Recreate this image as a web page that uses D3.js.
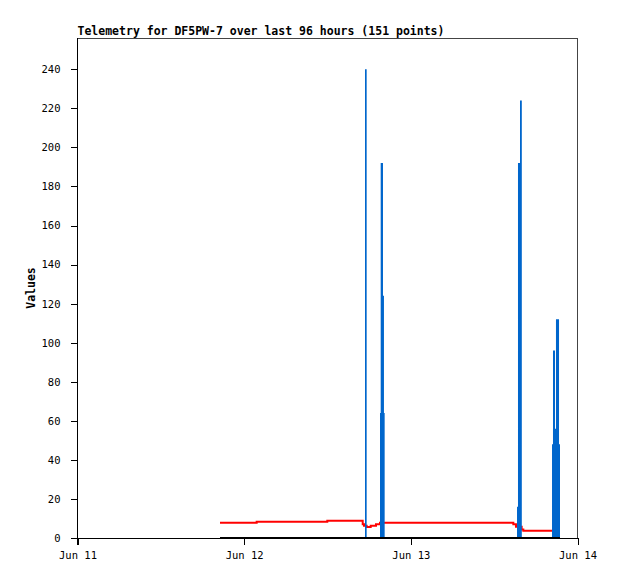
<!DOCTYPE html>
<html>
<head>
<meta charset="utf-8">
<script src="https://cdn.jsdelivr.net/npm/d3@7"></script>
<style>
  body { margin: 0; background: #fff; }
  text { font-family: "DejaVu Sans Mono", "Liberation Mono", monospace; fill: #000; }
</style>
</head>
<body>
<div id="chart"></div>
<script>
// Telemetry values, times in hours after Jun 11 00:00
const redHours   = [20.52, 25.80, 35.97, 41.07, 41.26, 41.64, 42.22, 42.98, 43.56, 62.76, 63.14, 63.96, 64.20, 68.33];
const redValues  = [7.8, 8.3, 8.8, 7.0, 6.3, 5.6, 6.3, 7.0, 7.8, 7.0, 5.8, 4.4, 3.7, 3.7];

const blueHours  = [20.52, 41.40, 41.64, 43.56, 43.66, 43.99, 44.13, 44.23, 63.29, 63.43, 63.72, 63.98, 68.33, 68.47, 68.76, 68.90, 69.34, 69.48];
const blueValues = [0, 240, 0, 64, 192, 124, 64, 0, 16, 192, 224, 0, 48, 96, 56, 112, 48, 0];

const blackHours  = [20.52, 69.48];
const blackValues = [0, 0];

const yTicks = [0, 20, 40, 60, 80, 100, 120, 140, 160, 180, 200, 220, 240];
const xTickDays = [11, 12, 13, 14];

const W = 618, H = 579;
const plotLeft = 77.5, plotRight = 577.5, plotTop = 38, plotBottom = 538;

const start = new Date(2024, 5, 11);
const toDate = h => new Date(start.getTime() + h * 3600e3);

const x = d3.scaleTime()
  .domain([start, new Date(2024, 5, 14)])
  .range([plotLeft, plotRight]);

const y = d3.scaleLinear()
  .domain([0, 256])
  .range([plotBottom, plotTop]);

const svg = d3.select("#chart").append("svg")
  .attr("width", W)
  .attr("height", H);

// frame (top and right in grey)
svg.append("path")
  .attr("d", `M${plotLeft},${plotTop}H${plotRight}V${plotBottom}`)
  .attr("fill", "none")
  .attr("stroke", "#444")
  .attr("shape-rendering", "crispEdges");

const zip = (hs, vs) => hs.map((h, i) => ({ t: toDate(h), v: vs[i] }));

// blue series as step area
svg.append("path")
  .datum(zip(blueHours, blueValues))
  .attr("fill", "#0066cc")
  .attr("d", d3.area()
    .x(d => x(d.t))
    .y0(y(0))
    .y1(d => y(d.v))
    .curve(d3.curveStepAfter));

// red series
svg.append("path")
  .datum(zip(redHours, redValues))
  .attr("fill", "none")
  .attr("stroke", "#ff0000")
  .attr("stroke-width", 2)
  .attr("d", d3.line()
    .x(d => x(d.t))
    .y(d => y(d.v))
    .curve(d3.curveStepAfter));

// blue drawn over red
svg.select("path[fill='#0066cc']").raise();

// axes
const yAxis = svg.append("g")
  .attr("transform", `translate(${plotLeft},0)`)
  .call(d3.axisLeft(y).tickValues(yTicks).tickSize(7).tickPadding(10));

const xAxis = svg.append("g")
  .attr("transform", `translate(0,${plotBottom})`)
  .call(d3.axisBottom(x)
    .tickValues(xTickDays.map(d => new Date(2024, 5, d)))
    .tickFormat(d3.timeFormat("%b %d"))
    .tickSize(7)
    .tickPadding(7));

[yAxis, xAxis].forEach(g => {
  g.select(".domain").remove();
  g.selectAll("line").attr("stroke", "#000").attr("shape-rendering", "crispEdges");
  g.selectAll("text").attr("font-size", "10.5px")
    .attr("font-family", "'DejaVu Sans Mono', monospace");
});

svg.append("line")
  .attr("x1", plotLeft - 7).attr("x2", plotRight)
  .attr("y1", plotBottom).attr("y2", plotBottom)
  .attr("stroke", "#000")
  .attr("shape-rendering", "crispEdges");

svg.append("line")
  .attr("x1", plotLeft).attr("x2", plotLeft)
  .attr("y1", plotTop).attr("y2", plotBottom + 7)
  .attr("stroke", "#000")
  .attr("shape-rendering", "crispEdges");

// black zero series
svg.append("path")
  .datum(zip(blackHours, blackValues))
  .attr("fill", "none")
  .attr("stroke", "#000")
  .attr("stroke-width", 2)
  .attr("d", d3.line().x(d => x(d.t)).y(d => y(d.v)));

// title and axis label
svg.append("text")
  .attr("x", plotLeft)
  .attr("y", 35)
  .attr("font-size", "11.5px")
  .attr("font-weight", "bold")
  .text("Telemetry for DF5PW-7 over last 96 hours (151 points)");

svg.append("text")
  .attr("transform", `translate(35,${(plotTop + plotBottom) / 2}) rotate(-90)`)
  .attr("text-anchor", "middle")
  .attr("font-size", "11.5px")
  .attr("font-weight", "bold")
  .text("Values");
</script>
</body>
</html>
